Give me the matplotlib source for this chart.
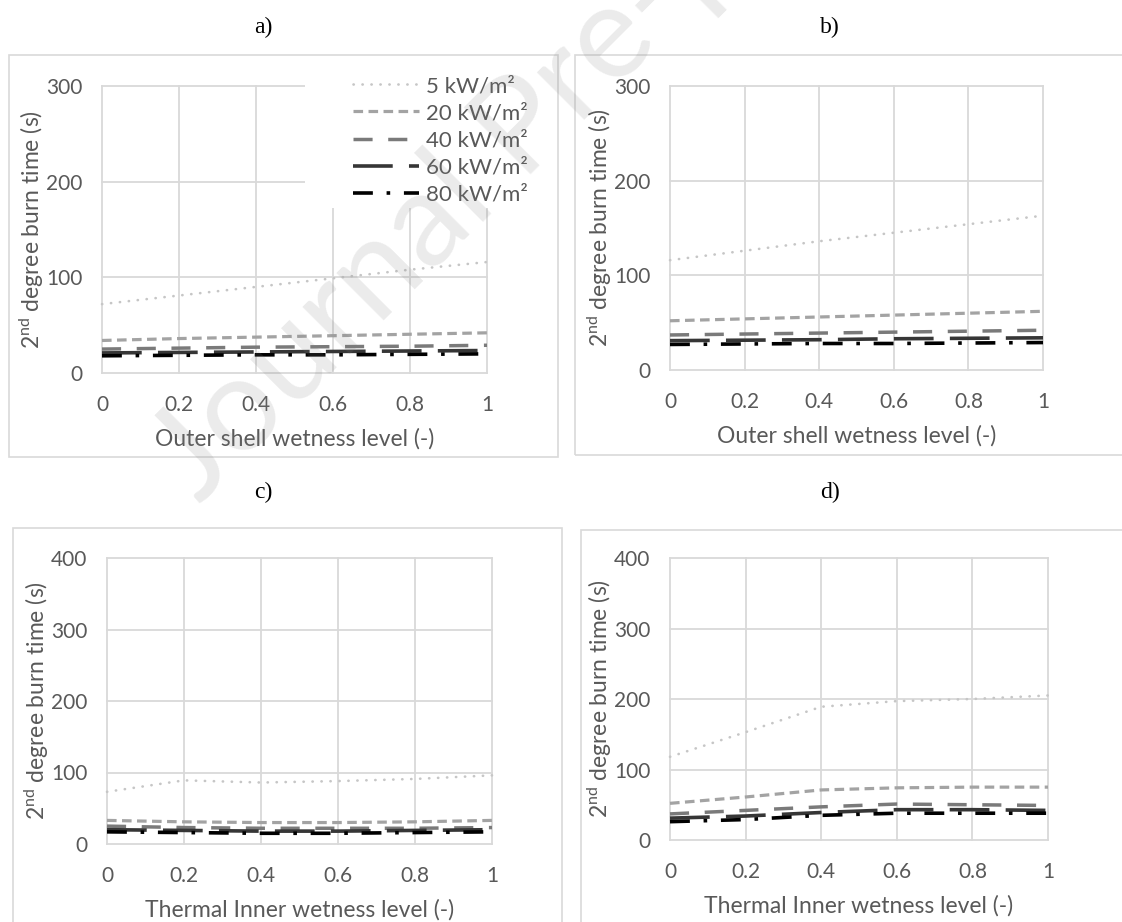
import numpy as np
import matplotlib.pyplot as plt
from matplotlib.patches import Rectangle

plt.rcParams['font.family'] = ['Lato', 'DejaVu Sans']
plt.rcParams['mathtext.fontset'] = 'custom'
plt.rcParams['mathtext.rm'] = 'Lato'
plt.rcParams['mathtext.it'] = 'Lato:italic'

# wetness level (x) and 2nd degree burn time (s) for each heat flux
wetness = [0, 0.2, 0.4, 0.6, 0.8, 1.0]
flux_labels = ['5 kW/m²', '20 kW/m²', '40 kW/m²', '60 kW/m²', '80 kW/m²']

# a) outer shell wetness, case 1
a_5 = [72, 81, 90, 99, 108, 116]
a_20 = [34, 36, 37.5, 39, 40.5, 42]
a_40 = [25, 26, 27, 27.5, 28, 29]
a_60 = [21, 21.5, 22, 22.5, 23, 23.5]
a_80 = [18, 18.5, 19, 19, 19.5, 20]

# b) outer shell wetness, case 2
b_5 = [116, 126, 136, 145, 154, 163]
b_20 = [52, 54, 56, 58, 60, 62]
b_40 = [37, 38, 39, 40, 41, 42]
b_60 = [31, 31.5, 32, 33, 33.5, 34]
b_80 = [27, 27.5, 28, 28, 28.5, 29]

# c) thermal inner wetness, case 1
c_5 = [73, 89, 86, 88, 91, 96]
c_20 = [33, 31, 30, 30, 31, 33]
c_40 = [25, 23, 22, 22, 22, 23]
c_60 = [20, 19, 18, 18, 19, 20]
c_80 = [17, 16, 15, 15, 16, 17]

# d) thermal inner wetness, case 2
d_5 = [118, 153, 189, 197, 200, 205]
d_20 = [52, 61, 71, 74, 75, 75]
d_40 = [37, 42, 47, 51, 50, 49]
d_60 = [31, 34, 39, 43, 43, 42]
d_80 = [26, 29, 35, 38, 38, 38]

W, H = 1122, 922
fig = plt.figure(figsize=(W / 100, H / 100), dpi=100)
fig.patch.set_facecolor('white')

txt = '#595959'
grid = '#d9d9d9'

styles = [
    dict(color='#c6c6c6', lw=1.9, dashes=(0.1, 3.3), dash_capstyle='round'),
    dict(color='#a3a3a3', lw=2.3, dashes=(3.0, 1.7)),
    dict(color='#7a7a7a', lw=2.5, dashes=(5.5, 4.5)),
    dict(color='#363636', lw=2.6, dashes=(11.0, 4.5)),
    dict(color='#000000', lw=2.6, dashes=(5.5, 3.8, 1.0, 3.8)),
]


def px_box(x0, y0, x1, y1):
    return [x0 / W, 1 - y1 / H, (x1 - x0) / W, (y1 - y0) / H]


def frame(x0, y0, x1, y1):
    fig.patches.append(Rectangle((x0 / W, 1 - y1 / H), (x1 - x0) / W, (y1 - y0) / H,
                                 transform=fig.transFigure, fill=False,
                                 edgecolor=grid, lw=1.2, zorder=0))


def panel(box, series, ymax, xlabel, title, title_xy):
    ax = fig.add_axes(px_box(*box))
    for ys, st in zip(series, styles):
        ax.plot(wetness, ys, solid_capstyle='butt', zorder=3, clip_on=False, **st)
    ax.set_xlim(0, 1)
    ax.set_ylim(0, ymax)
    ax.set_xticks([0, 0.2, 0.4, 0.6, 0.8, 1])
    ax.set_xticklabels(['0', '0.2', '0.4', '0.6', '0.8', '1'])
    ax.set_yticks(np.arange(0, ymax + 1, 100))
    ax.grid(True, color=grid, lw=1.3, clip_on=False)
    ax.set_axisbelow(True)
    for s in ax.spines.values():
        s.set_visible(False)
    ax.tick_params(length=0, labelsize=15, colors=txt)
    ax.tick_params(axis='x', pad=16)
    ax.tick_params(axis='y', pad=14)
    ax.set_xlabel(xlabel, fontsize=16.5, color=txt, labelpad=9)
    ax.set_ylabel(r'2$^{\mathrm{nd}}$ degree burn time (s)', fontsize=16.5, color=txt, labelpad=0)
    fig.text(title_xy[0] / W, 1 - title_xy[1] / H, title, family='Liberation Serif',
             fontsize=17, ha='center', va='center', color='black')
    return ax


frame(9, 55, 558, 457)
frame(575, 55, 1140, 455)
frame(13, 528, 562, 940)
frame(581, 530, 1140, 940)

ax_a = panel((102, 86, 487, 373), [a_5, a_20, a_40, a_60, a_80], 300,
             'Outer shell wetness level (-)', 'a)', (263, 27))
ax_b = panel((670, 86, 1043, 370), [b_5, b_20, b_40, b_60, b_80], 300,
             'Outer shell wetness level (-)', 'b)', (830, 27))
ax_c = panel((107, 558, 492, 844), [c_5, c_20, c_40, c_60, c_80], 400,
             'Thermal Inner wetness level (-)', 'c)', (263, 492))
ax_d = panel((670, 558, 1048, 840), [d_5, d_20, d_40, d_60, d_80], 400,
             'Thermal Inner wetness level (-)', 'd)', (830, 492))

# legend sits over the upper right of panel a and hides the gridlines there
ax_a.add_patch(Rectangle((305 / W, 1 - 208 / H), 200 / W, 130 / H, transform=fig.transFigure,
                         facecolor='white', edgecolor='none', zorder=1, clip_on=False))
leg = ax_a.legend(flux_labels, loc='upper left', bbox_to_anchor=(342 / W, 1 - 65 / H),
                  bbox_transform=fig.transFigure, frameon=False, fontsize=16,
                  handlelength=2.95, handletextpad=0.35, labelspacing=0.32, borderpad=0,
                  labelcolor=txt)

# journal watermark
fig.text(200 / W, 1 - 505 / H, 'Journal Pre-proof', rotation=45, rotation_mode='anchor',
         ha='left', va='baseline', fontsize=95, color='#808080', alpha=0.16, zorder=10)

fig.savefig('out.png', dpi=100, facecolor='white')
